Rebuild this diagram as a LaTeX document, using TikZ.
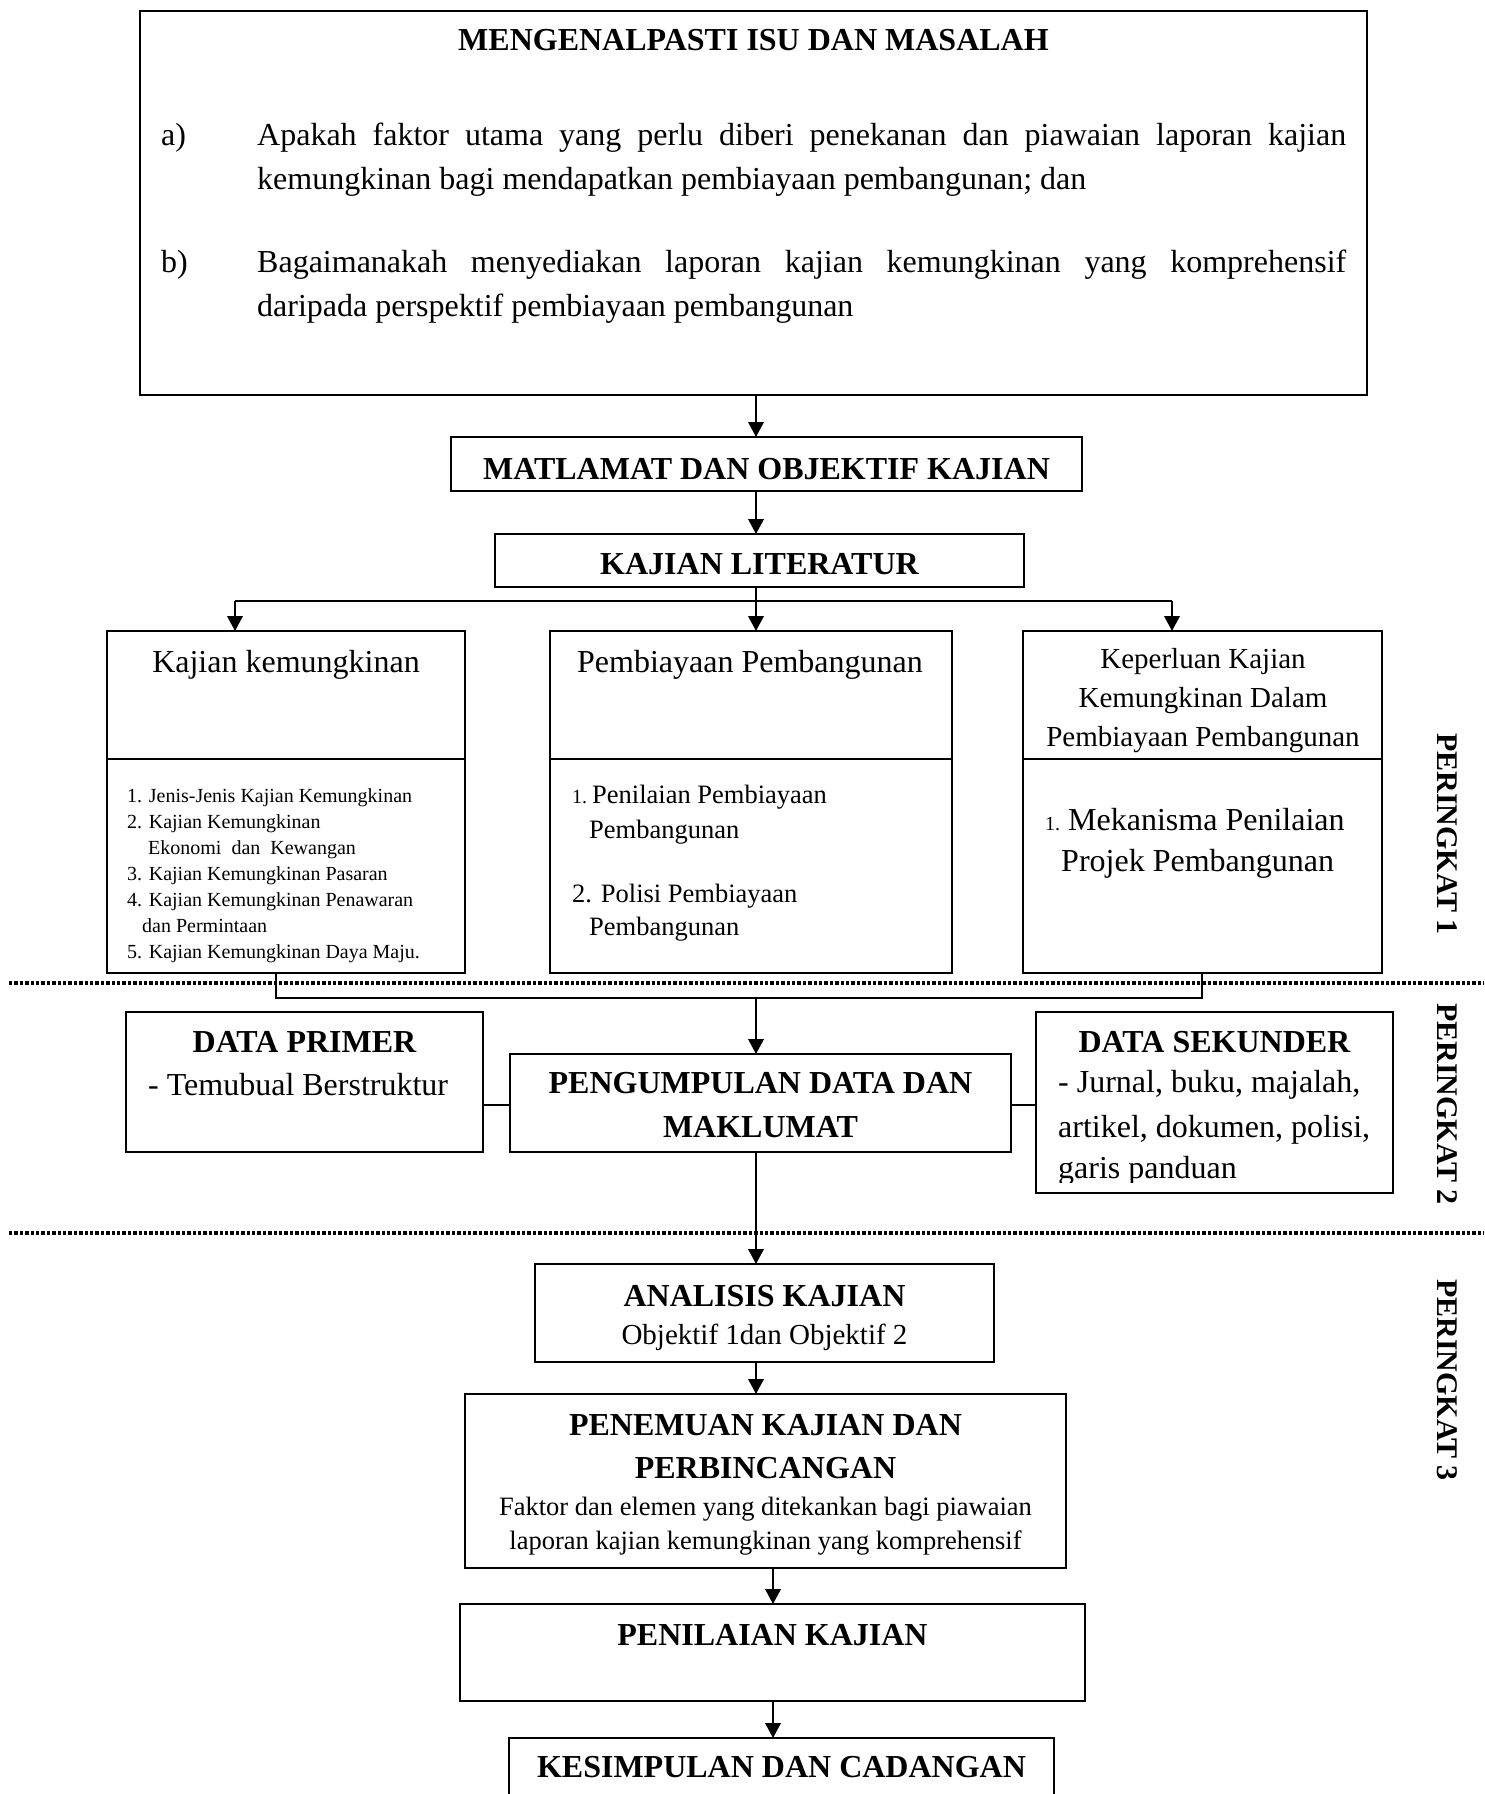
\documentclass[tikz,border=0pt]{standalone}
\usepackage{fontspec}
\setmainfont{Liberation Serif}
\usetikzlibrary{arrows.meta}
\begin{document}
\begin{tikzpicture}[x=1pt,y=-1pt,
  box/.style={draw, rectangle, line width=2pt, inner sep=0pt, outer sep=0pt},
  arr/.style={line width=2pt, -{Triangle[length=15pt,width=15.5pt]}},
  ln/.style={line width=2pt},
  thinln/.style={line width=1.5pt},
  sepline/.style={line width=3.6pt, dash pattern=on 3.4pt off 2pt},
  tr/.style={inner sep=0pt, anchor=base, font=\fontsize{32}{38}\selectfont},
  tb/.style={inner sep=0pt, anchor=base, font=\fontsize{32}{38}\selectfont\bfseries},
  tl/.style={inner sep=0pt, anchor=base west, font=\fontsize{32}{38}\selectfont},
  ts/.style={inner sep=0pt, anchor=base west, font=\fontsize{20}{24}\selectfont},
  tm/.style={inner sep=0pt, anchor=base west, font=\fontsize{26.5}{32}\selectfont},
  tmc/.style={inner sep=0pt, anchor=base, font=\fontsize{26.5}{32}\selectfont},
  tk/.style={inner sep=0pt, anchor=base, font=\fontsize{29}{35}\selectfont},
  side/.style={inner sep=0pt, anchor=center, rotate=-90, font=\fontsize{30}{36}\selectfont\bfseries}
]
\useasboundingbox[fill=white] (0,0) rectangle (1484,1794);

% separators
\draw[sepline] (9,983) -- (1484,983);
\draw[sepline] (9,1233) -- (1484,1233);

% boxes
\node[box, minimum width=1227pt, minimum height=384pt] (TOP) at (753.5,203) {};
\node[box, minimum width=631pt, minimum height=54pt] (MAT) at (766.5,464) {};
\node[box, minimum width=529pt, minimum height=53pt] (KL) at (759.5,560.5) {};
\node[box, minimum width=358pt, minimum height=128pt] (Lh) at (286,695) {};
\node[box, minimum width=358pt, minimum height=214pt] (Lb) at (286,866) {};
\node[box, minimum width=402pt, minimum height=128pt] (Mh) at (751,695) {};
\node[box, minimum width=402pt, minimum height=214pt] (Mb) at (751,866) {};
\node[box, minimum width=359pt, minimum height=128pt] (Rh) at (1202.5,695) {};
\node[box, minimum width=359pt, minimum height=214pt] (Rb) at (1202.5,866) {};
\node[box, minimum width=357pt, minimum height=140pt] (DP) at (304.5,1082) {};
\node[box, minimum width=501pt, minimum height=98pt] (PD) at (760.5,1103) {};
\node[box, minimum width=357pt, minimum height=181pt] (DS) at (1214.5,1102.5) {};
\node[box, minimum width=459pt, minimum height=98pt] (AN) at (764.5,1313) {};
\node[box, minimum width=601pt, minimum height=174pt] (PN) at (765.5,1481) {};
\node[box, minimum width=625pt, minimum height=97pt] (PL) at (772.5,1652.5) {};
\begin{scope}
\clip (0,0) rectangle (1484,1794);
\node[box, minimum width=545pt, minimum height=120pt] (KS) at (781.5,1798) {};
\end{scope}

% connector coordinates
\coordinate (cA) at (756,0);
\coordinate (cB) at (773,0);
\coordinate (bL) at (235,601);
\coordinate (bR) at (1172,601);
\coordinate (jL) at (276,998);
\coordinate (jR) at (1202,998);
\coordinate (jM) at (756,998);
\coordinate (hy) at (0,1105);

\draw[arr] (TOP.south -| cA) -- (cA |- MAT.north);
\draw[arr] (MAT.south -| cA) -- (cA |- KL.north);
\draw[arr] (KL.south -| cA) -- (cA |- Mh.north);
\draw[ln] (bL) -- (bR);
\draw[arr] (bL) -- (bL |- Lh.north);
\draw[arr] (bR) -- (bR |- Rh.north);
\draw[ln] (Lb.south -| jL) -- (jL) -- (jR) -- (Rb.south -| jR);
\draw[arr] (jM) -- (jM |- PD.north);
\draw[thinln] (DP.east |- hy) -- (PD.west |- hy);
\draw[thinln] (PD.east |- hy) -- (DS.west |- hy);
\draw[arr] (PD.south -| cA) -- (cA |- AN.north);
\draw[arr] (AN.south -| cA) -- (cA |- PN.north);
\draw[arr] (PN.south -| cB) -- (cB |- PL.north);
\draw[arr] (PL.south -| cB) -- (cB |- KS.north);

% top box text
\node[tb] (t0) at (753.5,50) {MENGENALPASTI ISU DAN MASALAH};
\node[tl] (ta) at (161,145) {a)};
\node[tl] (ta1) at (257,145) {\makebox[1089pt][s]{Apakah faktor utama yang perlu diberi penekanan dan piawaian laporan kajian}};
\node[tl] (ta2) at (257,189) {kemungkinan bagi mendapatkan pembiayaan pembangunan; dan};
\node[tl] (tbb) at (161,272) {b)};
\node[tl] (tb1) at (257,272) {\makebox[1089pt][s]{Bagaimanakah menyediakan laporan kajian kemungkinan yang komprehensif}};
\node[tl] (tb2) at (257,316) {daripada perspektif pembiayaan pembangunan};

\node[tb] (tmat) at (766.5,479) {MATLAMAT DAN OBJEKTIF KAJIAN};
\node[tb] (tkl) at (759.5,574) {KAJIAN LITERATUR};

% left box
\node[tr] (lh) at (286,672) {Kajian kemungkinan};
\node[ts] (l1) at (127,802) {1. Jenis-Jenis Kajian Kemungkinan};
\node[ts] (l2) at (127,828) {2. Kajian Kemungkinan};
\node[ts] (l2b) at (148,854) {Ekonomi\ \ dan\ \ Kewangan};
\node[ts] (l3) at (127,880) {3. Kajian Kemungkinan Pasaran};
\node[ts] (l4) at (127,906) {4. Kajian Kemungkinan Penawaran};
\node[ts] (l4b) at (142,932) {dan Permintaan};
\node[ts] (l5) at (127,958) {5. Kajian Kemungkinan Daya Maju.};

% middle box
\node[tr] (mh) at (750,672) {Pembiayaan Pembangunan};
\node[ts] (m1n) at (572,803) {1.};
\node[tm] (m1) at (592,803) {Penilaian Pembiayaan};
\node[tm] (m1b) at (589,838) {Pembangunan};
\node[tm] (m2) at (572,902) {2. Polisi Pembiayaan};
\node[tm] (m2b) at (589,935) {Pembangunan};

% right box
\node[tk] (rh1) at (1203,668) {Keperluan Kajian};
\node[tk] (rh2) at (1203,707) {Kemungkinan Dalam};
\node[tk] (rh3) at (1203,746) {Pembiayaan Pembangunan};
\node[ts] (r1n) at (1045,830) {1.};
\node[tl] (r1) at (1068,830) {Mekanisma Penilaian};
\node[tl] (r1b) at (1061,871) {Projek Pembangunan};

% level 2
\node[tb] (dp1) at (304.5,1052) {DATA PRIMER};
\node[tl] (dp2) at (148,1095) {- Temubual Berstruktur};
\node[tb] (pd1) at (760.5,1093) {PENGUMPULAN DATA DAN};
\node[tb] (pd2) at (760.5,1137) {MAKLUMAT};
\node[tb] (ds1) at (1214.5,1052) {DATA SEKUNDER};
\node[tl] (ds2) at (1058,1092) {- Jurnal, buku, majalah,};
\node[tl] (ds3) at (1058,1137) {artikel, dokumen, polisi,};
\begin{scope}
\clip (1036,1012) rectangle (1393,1182);
\node[tl] (ds4) at (1058,1178) {garis panduan};
\end{scope}

% level 3
\node[tb] (an1) at (764.5,1306) {ANALISIS KAJIAN};
\node[tk] (an2) at (764.5,1344) {Objektif 1dan Objektif 2};
\node[tb] (pn1) at (765.5,1435) {PENEMUAN KAJIAN DAN};
\node[tb] (pn2) at (765.5,1478) {PERBINCANGAN};
\node[tmc] (pn3) at (765.5,1515) {Faktor dan elemen yang ditekankan bagi piawaian};
\node[tmc] (pn4) at (765.5,1549) {laporan kajian kemungkinan yang komprehensif};
\node[tb] (pl1) at (772.5,1645) {PENILAIAN KAJIAN};
\node[tb] (ks1) at (781.5,1777) {KESIMPULAN DAN CADANGAN};

% side labels
\node[side] (p1) at (1447,834) {PERINGKAT 1};
\node[side] (p2) at (1447,1104) {PERINGKAT 2};
\node[side] (p3) at (1447,1380) {PERINGKAT 3};
\end{tikzpicture}
\end{document}
